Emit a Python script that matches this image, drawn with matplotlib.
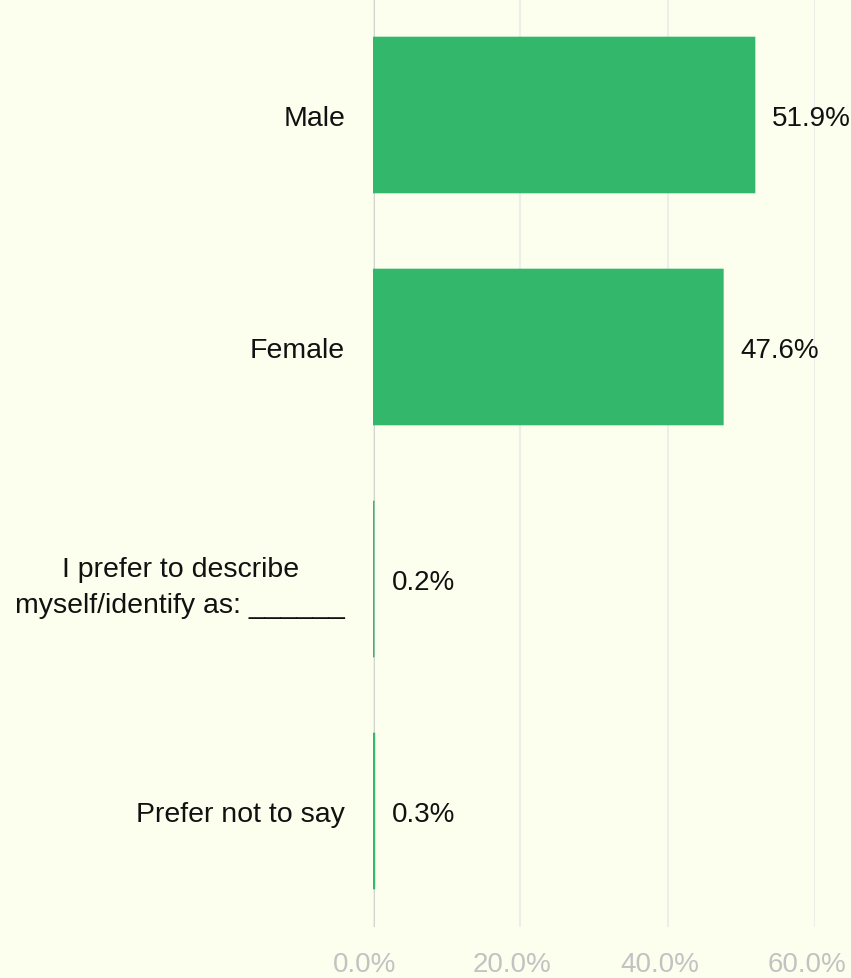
import matplotlib.pyplot as plt
import matplotlib.transforms as mtransforms
from matplotlib.ticker import FuncFormatter

categories = ['Male', 'Female', 'I prefer to describe\nmyself/identify as: ______', 'Prefer not to say']
values = [51.9, 47.6, 0.2, 0.3]
xticks = [0, 20, 40, 60]

bg = '#fcffee'
green = '#33b76a'

plt.rcParams['font.family'] = ['Liberation Sans', 'DejaVu Sans']

fig = plt.figure(figsize=(8.51, 9.79), dpi=100, facecolor=bg)
ax = fig.add_axes([373 / 851, 51 / 979, 442 / 851, 928 / 979])
ax.set_facecolor(bg)

ypos = list(range(len(categories)))
ax.barh(ypos, values, height=0.675, color=green, zorder=3, snap=False)

for y, v in zip(ypos, values):
    ax.annotate('{:.1f}%'.format(v), (v, y), xytext=(17, -3), textcoords='offset pixels',
                va='center', ha='left', fontsize=20, color='#111111')

ax.set_xlim(0, 60)
ax.set_ylim(3.5, -0.5)
ax.set_yticks(ypos)
ax.set_yticklabels(categories, fontsize=20.5, color='#111111')
for lbl in ax.get_yticklabels():
    lbl.set_ha('right')
    lbl.set_multialignment('center')
    lbl.set_linespacing(1.5)
ax.tick_params(axis='y', length=0, pad=20)

ax.set_xticks(xticks)
ax.xaxis.set_major_formatter(FuncFormatter(lambda v, p: '{:.1f}%'.format(v)))
ax.tick_params(axis='x', length=0, pad=17, labelsize=20, labelcolor='#c2c2c2')
shift = mtransforms.ScaledTranslation(-8 / 100, 0, fig.dpi_scale_trans)
for lbl in ax.get_xticklabels():
    lbl.set_transform(lbl.get_transform() + shift)
ax.grid(axis='x', color='#ededea', linewidth=1.5, zorder=0)
ax.axvline(0, color='#cfcfcc', linewidth=2, zorder=1)

for s in ax.spines.values():
    s.set_visible(False)

fig.savefig('out.png', dpi=100, facecolor=bg)
